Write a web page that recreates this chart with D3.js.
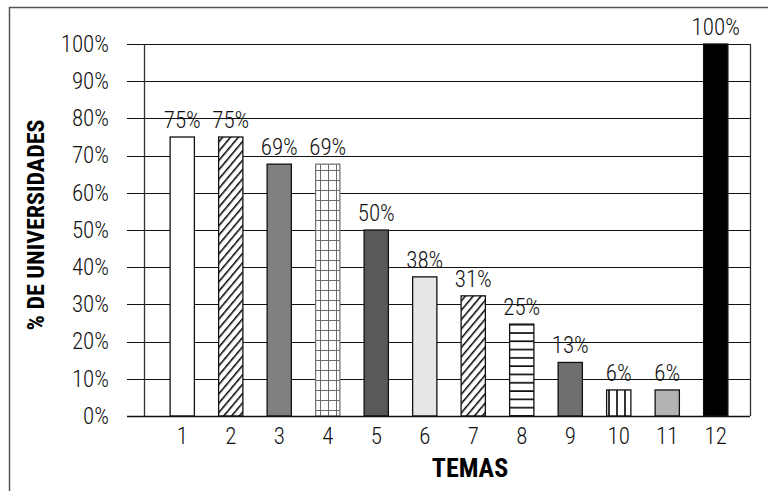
<!DOCTYPE html>
<html>
<head>
<meta charset="utf-8">
<script src="https://cdn.jsdelivr.net/npm/d3@7"></script>
<style>
  body { margin: 0; background: #fff; }
  svg text { font-family: "Roboto Condensed", "DejaVu Sans Condensed", sans-serif; }
</style>
</head>
<body>
<div id="chart"></div>
<script>
// temas 1..12, share of universities (bar heights)
var temas = ["1", "2", "3", "4", "5", "6", "7", "8", "9", "10", "11", "12"]
var valores = [75, 75, 67.7, 67.7, 50, 37.4, 32.3, 24.7, 14.4, 7, 7, 100]
var etiquetas = ["75%", "75%", "69%", "69%", "50%", "38%", "31%", "25%", "13%", "6%", "6%", "100%"]
var yTicks = [0, 10, 20, 30, 40, 50, 60, 70, 80, 90, 100]
// fill of each bar: colour or pattern id
var rellenos = ["#ffffff", "url(#diag)", "#808080", "url(#grid)", "#595959", "#e6e6e6",
  "url(#diag)", "url(#hlines)", "#6f6f6f", "url(#vlines)", "#b3b3b3", "#000000"]

var W = 768, H = 491

var svg = d3.select("#chart").append("svg")
  .attr("width", W)
  .attr("height", H)

// patterns
var defs = svg.append("defs")

var p = defs.append("pattern").attr("id", "diag")
  .attr("patternUnits", "userSpaceOnUse")
  .attr("width", 6).attr("height", 6)
  .attr("patternTransform", "rotate(40)")
p.append("rect").attr("width", 6).attr("height", 6).attr("fill", "#fff")
p.append("line").attr("x1", 0).attr("y1", 0).attr("x2", 0).attr("y2", 6)
  .attr("stroke", "#000").attr("stroke-width", 3)

p = defs.append("pattern").attr("id", "grid")
  .attr("patternUnits", "userSpaceOnUse")
  .attr("width", 8).attr("height", 10)
p.append("rect").attr("width", 8).attr("height", 10).attr("fill", "#fff")
p.append("path").attr("d", "M0,0V10M0,0H8")
  .attr("stroke", "#6a6a6a").attr("stroke-width", 2).attr("fill", "none")

p = defs.append("pattern").attr("id", "hlines")
  .attr("patternUnits", "userSpaceOnUse")
  .attr("width", 24).attr("height", 8.3)
p.append("rect").attr("width", 24).attr("height", 8.3).attr("fill", "#fff")
p.append("path").attr("d", "M0,1H24")
  .attr("stroke", "#000").attr("stroke-width", 1.6).attr("fill", "none")

p = defs.append("pattern").attr("id", "vlines")
  .attr("patternUnits", "userSpaceOnUse")
  .attr("width", 8).attr("height", 10)
p.append("rect").attr("width", 8).attr("height", 10).attr("fill", "#fff")
p.append("path").attr("d", "M1,0V10")
  .attr("stroke", "#000").attr("stroke-width", 1.6).attr("fill", "none")

// outer frame
svg.append("rect")
  .attr("x", 9.5).attr("y", 7.5)
  .attr("width", 820).attr("height", 520)
  .attr("fill", "none")
  .attr("stroke", "#555")
  .attr("stroke-width", 1.5)

var plotL = 144, plotR = 750, plotT = 44, plotB = 416

var y = d3.scaleLinear().domain([0, 100]).range([plotB, plotT])
var x = d3.scaleBand().domain(temas).range([158, 740])
  .paddingInner(0.5).paddingOuter(0.25)

// gridlines
svg.append("g")
  .selectAll("line")
  .data(yTicks)
  .join("line")
  .attr("x1", plotL - 17)
  .attr("x2", plotR)
  .attr("y1", d => Math.round(y(d)) + 0.5)
  .attr("y2", d => Math.round(y(d)) + 0.5)
  .attr("stroke", "#111")
  .attr("stroke-width", 1.2)

// y axis
var yAxis = svg.append("g")
  .attr("transform", `translate(${plotL},0)`)
  .call(d3.axisLeft(y).tickValues(yTicks).tickSize(17).tickPadding(18)
    .tickFormat(d => d + "%"))
yAxis.select(".domain").remove()
yAxis.selectAll("line").remove()
yAxis.selectAll("text").attr("font-size", 23).attr("font-weight", 300)
  .attr("fill", "#111").attr("font-family", null)

// plot frame sides
svg.append("line")
  .attr("x1", plotL + 0.5).attr("x2", plotL + 0.5)
  .attr("y1", plotT).attr("y2", plotB)
  .attr("stroke", "#333").attr("stroke-width", 1.3)
svg.append("line")
  .attr("x1", plotR + 0.5).attr("x2", plotR + 0.5)
  .attr("y1", plotT).attr("y2", plotB)
  .attr("stroke", "#333").attr("stroke-width", 1.3)

// bars
svg.append("g")
  .selectAll("rect")
  .data(valores)
  .join("rect")
  .attr("x", (d, i) => x(temas[i]))
  .attr("y", d => y(d))
  .attr("width", x.bandwidth())
  .attr("height", d => y(0) - y(d))
  .attr("fill", (d, i) => rellenos[i])
  .attr("stroke", (d, i) => i == 3 ? "#777" : "#111")
  .attr("stroke-width", 1.3)

// value labels
svg.append("g")
  .selectAll("text")
  .data(valores)
  .join("text")
  .attr("x", (d, i) => x(temas[i]) + x.bandwidth() / 2)
  .attr("y", d => y(d) - 9)
  .attr("text-anchor", "middle")
  .attr("font-size", 23)
  .attr("font-weight", 300)
  .attr("fill", "#111")
  .text((d, i) => etiquetas[i])

// x axis
var xAxis = svg.append("g")
  .attr("transform", `translate(0,${plotB})`)
  .call(d3.axisBottom(x).tickSize(0).tickPadding(12))
xAxis.select(".domain").remove()
xAxis.selectAll("text").attr("font-size", 23).attr("font-weight", 300)
  .attr("fill", "#111").attr("font-family", null)

svg.append("line")
  .attr("x1", plotL - 17).attr("x2", plotR)
  .attr("y1", plotB + 0.5).attr("y2", plotB + 0.5)
  .attr("stroke", "#111").attr("stroke-width", 1.5)

// axis titles
svg.append("text")
  .attr("x", 470)
  .attr("y", 477)
  .attr("text-anchor", "middle")
  .attr("font-size", 26)
  .attr("font-weight", "bold")
  .text("TEMAS")

svg.append("text")
  .attr("transform", "translate(44,225) rotate(-90)")
  .attr("text-anchor", "middle")
  .attr("font-size", 24)
  .attr("font-weight", "bold")
  .text("% DE UNIVERSIDADES")
</script>
</body>
</html>
